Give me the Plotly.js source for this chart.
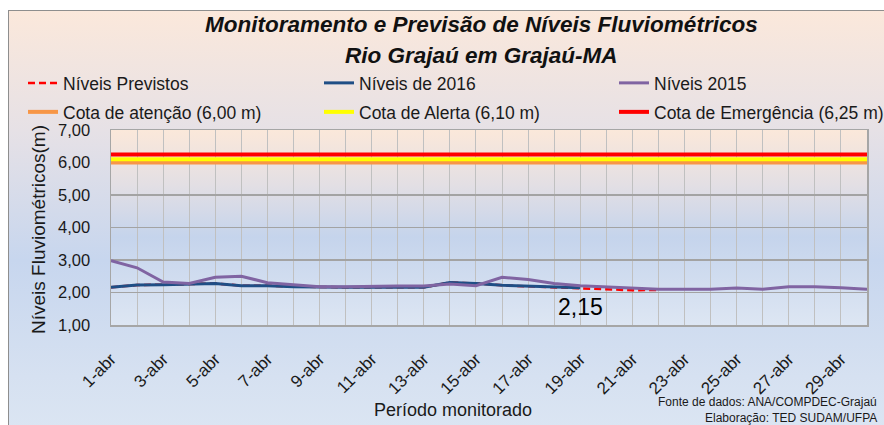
<!DOCTYPE html>
<html>
<head>
<meta charset="utf-8">
<script src="https://cdn.plot.ly/plotly-3.0.1.min.js"></script>
<style>
  html, body { margin:0; padding:0; background:#ffffff; }
  #wrap { position:relative; width:884px; height:425px; overflow:hidden; background:#ffffff; }
  #chartbg { position:absolute; left:8px; top:10px; width:900px; height:430px; border:1px solid #8e8e8e;
    background: linear-gradient(to bottom, #fbe8db 0%, #e6e1e6 28%, #c7d6ee 58%, #d6e1f1 85%, #dce6f3 100%); }
  #plotbg { position:absolute; left:111px; top:130px; width:756px; height:195px;
    background: linear-gradient(to bottom, #fbe8da 0%, #e3dfe4 28%, #c5d4ec 55%, #dde6f3 100%); }
  #chart { position:absolute; left:0; top:0; width:884px; height:425px; }
</style>
</head>
<body>
<div id="wrap">
  <div id="chartbg"></div>
  <div id="plotbg"></div>
  <div id="chart"></div>
</div>
<script>
// ---- data ----
const dias = ["1-abr","2-abr","3-abr","4-abr","5-abr","6-abr","7-abr","8-abr","9-abr","10-abr",
  "11-abr","12-abr","13-abr","14-abr","15-abr","16-abr","17-abr","18-abr","19-abr","20-abr",
  "21-abr","22-abr","23-abr","24-abr","25-abr","26-abr","27-abr","28-abr","29-abr","30-abr"];
const niveis2016 = [2.16,2.23,2.24,2.25,2.28,2.21,2.21,2.18,2.16,2.16,
  2.16,2.16,2.16,2.31,2.28,2.22,2.19,2.16,2.15];
const niveisPrevistos = [2.16,2.23,2.24,2.25,2.28,2.21,2.21,2.18,2.16,2.16,
  2.16,2.16,2.16,2.31,2.28,2.22,2.19,2.16,2.15,2.11,2.07,2.08];
const niveis2015 = [2.98,2.76,2.32,2.28,2.47,2.50,2.30,2.24,2.18,2.18,
  2.20,2.20,2.20,2.26,2.21,2.47,2.40,2.28,2.21,2.17,
  2.13,2.10,2.10,2.10,2.14,2.10,2.18,2.18,2.15,2.10];
const cotaAtencao = 6.00;
const cotaAlerta = 6.10;
const cotaEmergencia = 6.25;
const ultimoValor = 2.15;
const ultimoDia = "19-abr";

const font = "'Liberation Sans', Arial, sans-serif";
const constante = v => dias.map(() => v);

const traces = [
  {x: dias.slice(0, niveisPrevistos.length), y: niveisPrevistos, name: "Níveis Previstos", mode: "lines",
   line: {color: "#ff0000", width: 2.5, dash: "7px,4px"}, legend: "legend"},
  {x: dias.slice(0, niveis2016.length), y: niveis2016, name: "Níveis de 2016", mode: "lines",
   line: {color: "#1f4e85", width: 3}, legend: "legend2"},
  {x: dias, y: niveis2015, name: "Níveis 2015", mode: "lines",
   line: {color: "#8064a2", width: 3}, legend: "legend3"},
  {x: dias, y: constante(cotaAtencao), name: "Cota de atenção (6,00 m)", mode: "lines",
   line: {color: "#f79646", width: 4}, legend: "legend4"},
  {x: dias, y: constante(cotaAlerta), name: "Cota de Alerta (6,10 m)", mode: "lines",
   line: {color: "#ffff00", width: 4}, legend: "legend5"},
  {x: dias, y: constante(cotaEmergencia), name: "Cota de Emergência (6,25 m)", mode: "lines",
   line: {color: "#ff0000", width: 4}, legend: "legend6"}
];
// thresholds drawn first, data lines on top
const data = [3,4,5,0,1,2].map(i => traces[i]);

const W = 884, H = 425, L = 111, R = 867, T = 130, B = 325;
const px = x => (x - L) / (R - L);   // pixel -> paper x
const py = y => (B - y) / (B - T);   // pixel -> paper y

const leg = (x, y) => ({
  orientation: "v", xref: "container", yref: "container",
  x: x / W, y: 1 - y / H, xanchor: "left", yanchor: "middle",
  bgcolor: "rgba(0,0,0,0)", borderwidth: 0,
  font: {family: font, size: 17.5, color: "#1a1a1a"}, itemclick: false
});

const ann = (text, x, y, size, extra) => Object.assign({
  text: text, xref: "paper", yref: "paper", x: px(x), y: py(y),
  xanchor: "center", yanchor: "middle", showarrow: false,
  font: {family: font, size: size, color: "#1a1a1a"}
}, extra || {});

const layout = {
  width: W, height: H,
  margin: {l: L, r: W - R, t: T, b: H - B, autoexpand: false},
  paper_bgcolor: "rgba(0,0,0,0)",
  plot_bgcolor: "rgba(0,0,0,0)",
  separators: ",.",
  font: {family: font, color: "#1a1a1a"},
  showlegend: true,
  legend: leg(23, 83), legend2: leg(319, 83), legend3: leg(614, 83),
  legend4: leg(23, 112), legend5: leg(319, 112), legend6: leg(614, 112),
  xaxis: {
    type: "category",
    range: [0, dias.length - 1],
    tickmode: "array",
    tickvals: dias,
    ticktext: dias.map((d, i) => i % 2 === 0 ? d : ""),
    tickangle: -45,
    tickfont: {family: font, size: 17, color: "#1a1a1a"},
    ticks: "outside", ticklen: 16, tickcolor: "rgba(0,0,0,0)",
    showgrid: true, gridcolor: "#c0c0c0", gridwidth: 1,
    showline: true, linecolor: "#a6a6a6", linewidth: 1.5, mirror: true,
    zeroline: false, fixedrange: true
  },
  yaxis: {
    range: [1, 7], dtick: 1, tick0: 1,
    tickformat: ".2f",
    tickfont: {family: font, size: 16.5, color: "#1a1a1a"},
    ticks: "outside", ticklen: 16, tickcolor: "rgba(0,0,0,0)",
    showgrid: true, gridcolor: "#a3a3a3", gridwidth: 1.5,
    showline: true, linecolor: "#a6a6a6", linewidth: 1.5, mirror: true,
    zeroline: false, fixedrange: true
  },
  annotations: [
    ann("<b><i>Monitoramento e Previsão de Níveis Fluviométricos</i></b>", 481, 25, 22.5,
        {font: {family: font, size: 22.5, color: "#111111"}}),
    ann("<b><i>Rio Grajaú em Grajaú-MA</i></b>", 481, 55, 22.5,
        {font: {family: font, size: 22.5, color: "#111111"}}),
    ann("Níveis Fluviométricos(m)", 38, 230, 19, {textangle: -90}),
    {text: ultimoValor.toFixed(2).replace(".", ","), x: ultimoDia, y: ultimoValor, xref: "x", yref: "y",
     showarrow: false, yshift: -19, font: {family: font, size: 23, color: "#000000"}},
    ann("Período monitorado", 453, 410, 18),
    ann("Fonte de dados: ANA/COMPDEC-Grajaú", 879, 402, 12, {xanchor: "right"}),
    ann("Elaboração: TED SUDAM/UFPA", 879, 418, 12, {xanchor: "right"})
  ]
};

Plotly.newPlot("chart", data, layout, {displayModeBar: false, staticPlot: true});
</script>
</body>
</html>
